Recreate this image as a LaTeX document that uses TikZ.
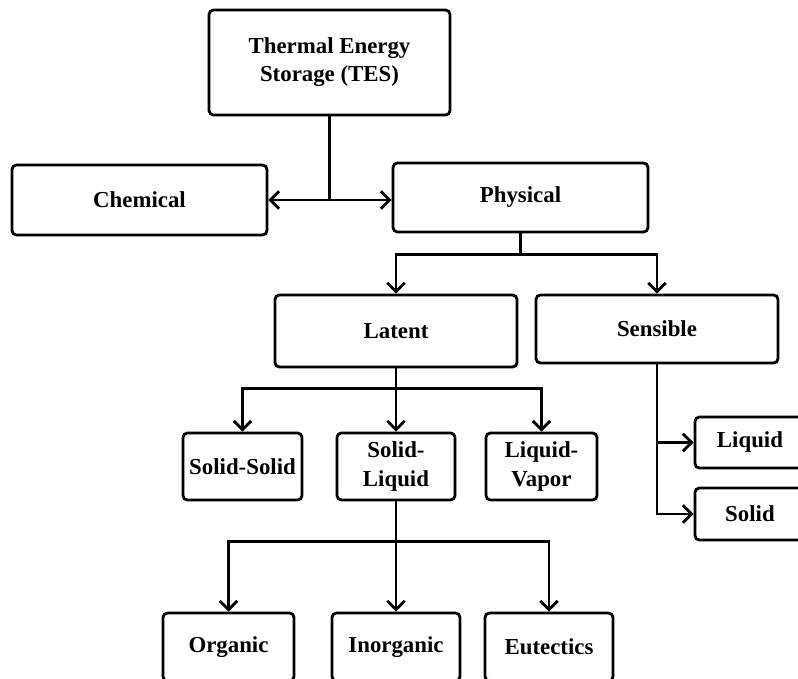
\documentclass[tikz,border=0pt]{standalone}
\usepackage{fontspec}
\setmainfont{Liberation Serif}
\usetikzlibrary{arrows.meta}

\begin{document}
\begin{tikzpicture}[x=0.02cm, y=-0.02cm]
    % Define styles
    \tikzset{
        box/.style={draw, line width=1.6pt, rounded corners=2.5pt, align=center,
            inner sep=0pt, font=\fontsize{13}{16}\selectfont\bfseries},
        link/.style={line width=1.6pt},
        arrow/.style={line width=1.6pt, -{Straight Barb[length=5pt, width=10pt]}}
    }
    
    % Fix the frame
    \useasboundingbox (0,0) rectangle (798,679);
    \clip (0,0) rectangle (798,679);
    
    % Top levels
    \node[box, minimum width=4.82cm, minimum height=2.1cm] (tes) at (329.5,62.5) {Thermal Energy\\Storage (TES)};
    \node[box, minimum width=5.1cm, minimum height=1.4cm] (chem) at (139.5,200) {Chemical};
    \node[box, minimum width=5.1cm, minimum height=1.38cm] (phys) at (520.5,197.5) {Physical};
    \node[box, minimum width=4.84cm, minimum height=1.44cm] (latent) at (396,331) {Latent};
    \node[box, minimum width=4.84cm, minimum height=1.36cm] (sens) at (657,329) {Sensible};
    
    % Latent branches
    \node[box, minimum width=2.38cm, minimum height=1.34cm] (ss) at (242.5,466.5) {Solid-Solid};
    \node[box, minimum width=2.36cm, minimum height=1.34cm] (sl) at (396,466.5) {Solid-\\Liquid};
    \node[box, minimum width=2.22cm, minimum height=1.34cm] (lv) at (541.5,466.5) {Liquid-\\Vapor};
    
    % Sensible branches
    \node[box, minimum width=2.2cm, minimum height=1.02cm] (liq) at (750,442.5) {Liquid};
    \node[box, minimum width=2.2cm, minimum height=1.04cm] (sol) at (750,514) {Solid};
    
    % Solid-liquid branches
    \node[box, minimum width=2.62cm, minimum height=1.36cm] (org) at (228.5,647) {Organic};
    \node[box, minimum width=2.56cm, minimum height=1.36cm] (inorg) at (396,647) {Inorganic};
    \node[box, minimum width=2.56cm, minimum height=1.36cm] (eut) at (549,647) {Eutectics};
    
    % Junctions
    \coordinate (j1) at (tes.south |- chem.east);
    \coordinate (j2) at ([yshift=-0.42cm]phys.south);
    \coordinate (j3) at ([yshift=-0.4cm]latent.south);
    \coordinate (j4) at ([yshift=-0.8cm]sl.south);
    
    % Draw connectors
    \draw[link] (tes.south) -- (j1);
    \draw[arrow] (j1) -- (chem.east);
    \draw[arrow] (j1) -- (j1 -| phys.west);
    \draw[link] (phys.south) -- (j2);
    \foreach \n in {latent, sens} {
        \draw[arrow] (j2) -| (\n.north);
    }
    \draw[link] (latent.south) -- (j3);
    \foreach \n in {ss, sl, lv} {
        \draw[arrow] (j3) -| (\n.north);
    }
    \draw[link] (sl.south) -- (j4);
    \foreach \n in {org, inorg, eut} {
        \draw[arrow] (j4) -| (\n.north);
    }
    \foreach \n in {liq, sol} {
        \draw[arrow] (sens.south) |- (\n.west);
    }
\end{tikzpicture}
\end{document}
